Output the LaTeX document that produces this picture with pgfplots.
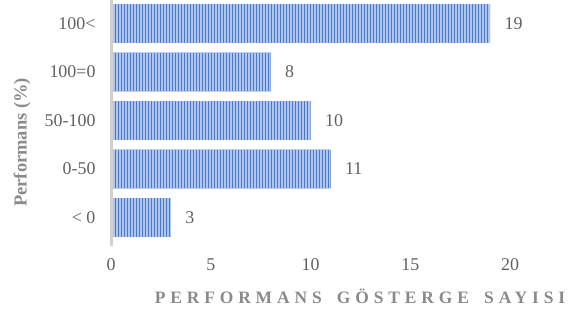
\documentclass[border=0pt]{standalone}
\usepackage{fontspec}
\setmainfont{Liberation Serif}
\usepackage{pgfplots}
\pgfplotsset{compat=1.18}
\usetikzlibrary{patterns.meta}
\definecolor{barblue}{HTML}{4A78C8}
\definecolor{stripe}{HTML}{B0C6EE}
\definecolor{txtgray}{HTML}{606060}
\definecolor{labgray}{HTML}{8A8A8A}
\definecolor{axgray}{HTML}{D0D0D0}
\begin{document}
\begin{tikzpicture}
\useasboundingbox (0,0) rectangle (570bp,310bp);
\begin{axis}[
  at={(111bp,68.25bp)}, anchor=south west,
  scale only axis, width=439bp, height=242.5bp,
  xmin=0, xmax=22, ymin=-0.5, ymax=4.5,
  xbar, bar width=38.8bp, bar shift=0pt,
  ytick={0,1,2,3,4},
  yticklabels={{< 0},{0-50},{50-100},{100=0},{100<}},
  xtick={0,5,10,15,20},
  axis line style={draw=none}, major tick length=0pt,
  /pgf/number format/assume math mode=true,
  ticklabel style={font=\fontsize{18}{21}\selectfont, text=txtgray},
  yticklabel style={anchor=east, xshift=-12bp},
  xticklabel style={anchor=north, yshift=-13bp},
  nodes near coords,
  nodes near coords style={anchor=west, xshift=11bp, font=\fontsize{18}{21}\selectfont, text=txtgray},
  clip=false,
]
\addplot[fill=barblue, draw=none,
  postaction={pattern={Lines[angle=90,distance=3bp,line width=1.2bp]}, pattern color=stripe}]
  coordinates {(3,0) (11,1) (10,2) (8,3) (19,4)};
\draw[axgray, line width=3bp] (axis cs:0,-0.58) -- (axis cs:0,4.55);
\end{axis}
\node[rotate=90, font=\bfseries\fontsize{18.5}{21}\selectfont, text=labgray] at (22bp,167.5bp) {Performans (\%)};
\node[font=\bfseries\fontsize{17.5}{20}\selectfont\addfontfeature{LetterSpace=28}, text=labgray] at (360bp,14bp) {PERFORMANS\hspace{6bp} GÖSTERGE\hspace{6bp} SAYISI};
\end{tikzpicture}
\end{document}
